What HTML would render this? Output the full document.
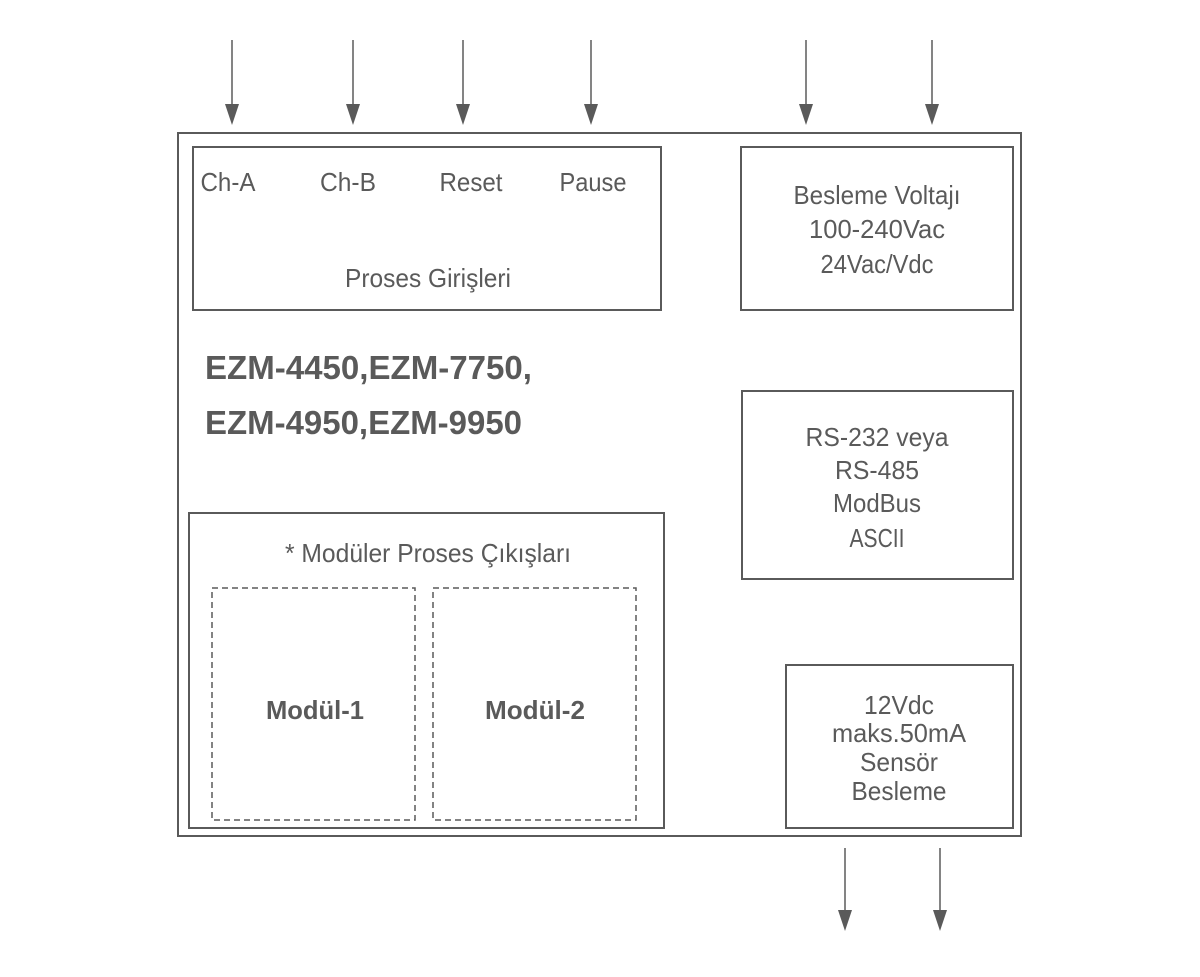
<!DOCTYPE html>
<html><head><meta charset="utf-8"><style>
html,body{margin:0;padding:0;background:#fff;}
svg text{font-family:"Liberation Sans Narrow","Liberation Sans",sans-serif;fill:#5a5a5a;}
</style></head><body>
<svg width="1200" height="972" viewBox="0 0 1200 972" xmlns="http://www.w3.org/2000/svg">
<g stroke="#5a5a5a" stroke-width="1.5">
<line x1="232" y1="40" x2="232" y2="106"/><line x1="353" y1="40" x2="353" y2="106"/>
<line x1="463" y1="40" x2="463" y2="106"/><line x1="591" y1="40" x2="591" y2="106"/>
<line x1="806" y1="40" x2="806" y2="106"/><line x1="932" y1="40" x2="932" y2="106"/>
<line x1="845" y1="848" x2="845" y2="912"/><line x1="940" y1="848" x2="940" y2="912"/>
</g>
<g fill="#5a5a5a">
<path d="M225,104 L239,104 L232,125 Z"/><path d="M346,104 L360,104 L353,125 Z"/>
<path d="M456,104 L470,104 L463,125 Z"/><path d="M584,104 L598,104 L591,125 Z"/>
<path d="M799,104 L813,104 L806,125 Z"/><path d="M925,104 L939,104 L932,125 Z"/>
<path d="M838,910 L852,910 L845,931 Z"/><path d="M933,910 L947,910 L940,931 Z"/>
</g>
<g fill="none" stroke="#5a5a5a" stroke-width="2">
<rect x="178" y="133" width="843" height="703"/>
<rect x="193" y="147" width="468" height="163"/>
<rect x="741" y="147" width="272" height="163"/>
<rect x="742" y="391" width="271" height="188"/>
<rect x="189" y="513" width="475" height="315"/>
<rect x="786" y="665" width="227" height="163"/>
</g>
<g fill="none" stroke="#5a5a5a" stroke-width="1.5" stroke-dasharray="6,4">
<rect x="212" y="588" width="203" height="232"/>
<rect x="433" y="588" width="203" height="232"/>
</g>
<g font-size="26" text-anchor="middle" lengthAdjust="spacingAndGlyphs">
<text x="228" y="191" textLength="55" lengthAdjust="spacingAndGlyphs">Ch-A</text>
<text x="348" y="191" textLength="56" lengthAdjust="spacingAndGlyphs">Ch-B</text>
<text x="471" y="191" textLength="63" lengthAdjust="spacingAndGlyphs">Reset</text>
<text x="593" y="191" textLength="67" lengthAdjust="spacingAndGlyphs">Pause</text>
<text x="428" y="287" textLength="166" lengthAdjust="spacingAndGlyphs">Proses Girişleri</text>
<text x="877" y="204" textLength="167" lengthAdjust="spacingAndGlyphs">Besleme Voltajı</text>
<text x="877" y="238" textLength="136" lengthAdjust="spacingAndGlyphs">100-240Vac</text>
<text x="877" y="273" textLength="113" lengthAdjust="spacingAndGlyphs">24Vac/Vdc</text>
<text x="877" y="446" textLength="143" lengthAdjust="spacingAndGlyphs">RS-232 veya</text>
<text x="877" y="479" textLength="84" lengthAdjust="spacingAndGlyphs">RS-485</text>
<text x="877" y="512" textLength="88" lengthAdjust="spacingAndGlyphs">ModBus</text>
<text x="877" y="547" textLength="55" lengthAdjust="spacingAndGlyphs">ASCII</text>
<text x="428" y="562" textLength="286" lengthAdjust="spacingAndGlyphs">* Modüler Proses Çıkışları</text>
<text x="899" y="714" textLength="70" lengthAdjust="spacingAndGlyphs">12Vdc</text>
<text x="899" y="742" textLength="134" lengthAdjust="spacingAndGlyphs">maks.50mA</text>
<text x="899" y="771" textLength="78" lengthAdjust="spacingAndGlyphs">Sensör</text>
<text x="899" y="800" textLength="95" lengthAdjust="spacingAndGlyphs">Besleme</text>
<text x="315" y="719" font-weight="bold" textLength="98" lengthAdjust="spacingAndGlyphs">Modül-1</text>
<text x="535" y="719" font-weight="bold" textLength="100" lengthAdjust="spacingAndGlyphs">Modül-2</text>
</g>
<g font-size="33" font-weight="bold">
<text x="205" y="379" textLength="327" lengthAdjust="spacingAndGlyphs">EZM-4450,EZM-7750,</text>
<text x="205" y="434" textLength="317" lengthAdjust="spacingAndGlyphs">EZM-4950,EZM-9950</text>
</g>
</svg>
</body></html>
